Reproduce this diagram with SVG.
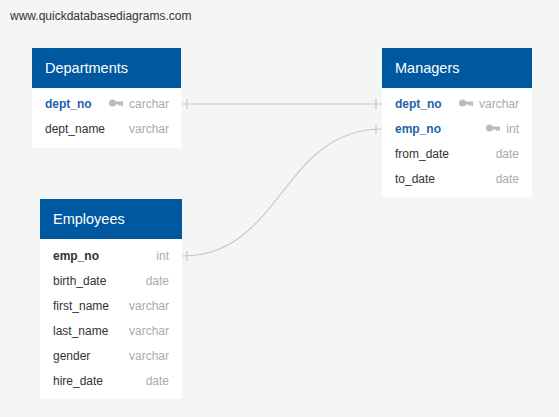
<svg xmlns="http://www.w3.org/2000/svg" width="559" height="417" viewBox="0 0 559 417">
<defs>
<style>
text{font-family:"Liberation Sans",Arial,sans-serif}
.hdr{fill:#0058a0}
.body{fill:#ffffff}
.title{fill:#ffffff;font-size:14.5px}
.f{fill:#333333;font-size:12px}
.pk{fill:#1f63a8;font-size:12px;font-weight:bold}
.fk{fill:#333333;font-size:12px;font-weight:bold}
.t{fill:#aaaaaa;font-size:12px;text-anchor:end}
.rel{fill:none;stroke:#c8c8c8;stroke-width:1.2}
.tick{stroke:#c8c8c8;stroke-width:1.2}
.key{fill:#bbbbbb}
</style>
<g id="keyicon">
<circle cx="3.5" cy="0" r="3.5"/>
<rect x="5" y="-1.5" width="9" height="3"/>
<rect x="10" y="0" width="1.6" height="3"/>
<rect x="12.4" y="0" width="1.6" height="3"/>
</g>
</defs>
<rect width="559" height="417" fill="#f4f5f5"/>
<text x="10" y="20" style="fill:#333;font-size:12px">www.quickdatabasediagrams.com</text>

<g id="connectors">
<path class="rel" d="M182 104 L382 104"/>
<line class="tick" x1="187" y1="99" x2="187" y2="109"/>
<line class="tick" x1="376" y1="99" x2="376" y2="109"/>
<path class="rel" d="M182 256 C282 256 282 129 382 129"/>
<line class="tick" x1="187" y1="251" x2="187" y2="261"/>
<line class="tick" x1="376" y1="124" x2="376" y2="134"/>
</g>

<g id="Departments">
<rect class="body" x="32" y="48" width="149" height="100"/>
<rect class="hdr" x="32" y="48" width="149" height="40"/>
<text class="title" x="45" y="73">Departments</text>
<text class="pk" x="45" y="108">dept_no</text>
<use href="#keyicon" class="key" x="109" y="103"/>
<text class="t" x="169" y="108">carchar</text>
<text class="f" x="45" y="133">dept_name</text>
<text class="t" x="169" y="133">varchar</text>
</g>

<g id="Managers">
<rect class="body" x="382" y="48" width="150" height="149"/>
<rect class="hdr" x="382" y="48" width="150" height="40"/>
<text class="title" x="395" y="73">Managers</text>
<text class="pk" x="395" y="108">dept_no</text>
<use href="#keyicon" class="key" x="459" y="103"/>
<text class="t" x="519" y="108">varchar</text>
<text class="pk" x="395" y="133">emp_no</text>
<use href="#keyicon" class="key" x="486" y="128"/>
<text class="t" x="519" y="133">int</text>
<text class="f" x="395" y="158">from_date</text>
<text class="t" x="519" y="158">date</text>
<text class="f" x="395" y="183">to_date</text>
<text class="t" x="519" y="183">date</text>
</g>

<g id="Employees">
<rect class="body" x="40" y="199" width="142" height="200"/>
<rect class="hdr" x="40" y="199" width="142" height="40"/>
<text class="title" x="53" y="224">Employees</text>
<text class="fk" x="53" y="260">emp_no</text>
<text class="t" x="169" y="260">int</text>
<text class="f" x="53" y="285">birth_date</text>
<text class="t" x="169" y="285">date</text>
<text class="f" x="53" y="310">first_name</text>
<text class="t" x="169" y="310">varchar</text>
<text class="f" x="53" y="335">last_name</text>
<text class="t" x="169" y="335">varchar</text>
<text class="f" x="53" y="360">gender</text>
<text class="t" x="169" y="360">varchar</text>
<text class="f" x="53" y="385">hire_date</text>
<text class="t" x="169" y="385">date</text>
</g>
</svg>
